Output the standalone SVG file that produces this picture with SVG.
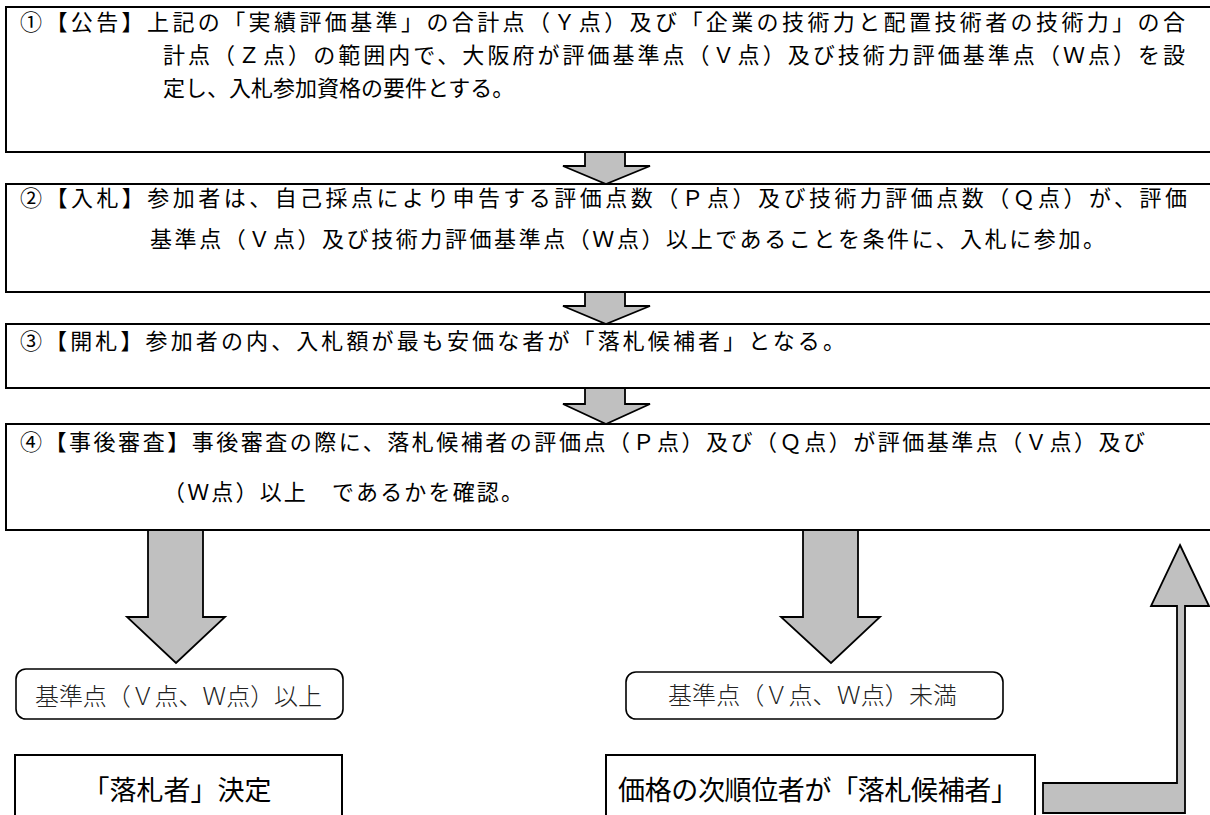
<svg xmlns="http://www.w3.org/2000/svg" width="1210" height="815" viewBox="0 0 1210 815">
<style>
.box{fill:#fff;stroke:#000;stroke-width:2}
.rbox{fill:#fff;stroke:#000;stroke-width:1.6}
.arr{fill:#c0c0c0;stroke:#000;stroke-width:1.8;stroke-linejoin:miter}
.t{font-family:"Liberation Sans","Noto Sans CJK JP",sans-serif;font-size:22px;fill:#000}
.m{font-family:"Liberation Serif","Noto Sans CJK JP",serif;font-size:24px;font-weight:300;fill:#222}
.b{font-family:"Liberation Sans","Noto Sans CJK JP",sans-serif;font-size:27px;fill:#000}
</style>
<rect width="1210" height="815" fill="#fff"/>
<g id="step1">
<rect class="box" x="6" y="7" width="1215" height="145"/>
<text class="t" x="20" y="30" textLength="1165" lengthAdjust="spacing">①【公告】上記の「実績評価基準」の合計点（Ｙ点）及び「企業の技術力と配置技術者の技術力」の合</text>
<text class="t" x="163" y="63" textLength="1022" lengthAdjust="spacing">計点（Ｚ点）の範囲内で、大阪府が評価基準点（Ｖ点）及び技術力評価基準点（Ｗ点）を設</text>
<text class="t" x="163" y="96">定し、入札参加資格の要件とする。</text>
</g>
<g id="step2">
<rect class="box" x="6" y="184" width="1215" height="108"/>
<text class="t" x="20" y="206" textLength="1167" lengthAdjust="spacing">②【入札】参加者は、自己採点により申告する評価点数（Ｐ点）及び技術力評価点数（Ｑ点）が、評価</text>
<text class="t" x="150" y="247" textLength="955" lengthAdjust="spacing">基準点（Ｖ点）及び技術力評価基準点（Ｗ点）以上であることを条件に、入札に参加。</text>
</g>
<g id="step3">
<rect class="box" x="6" y="324" width="1215" height="64"/>
<text class="t" x="20" y="349" textLength="825" lengthAdjust="spacing">③【開札】参加者の内、入札額が最も安価な者が「落札候補者」となる。</text>
</g>
<g id="step4">
<rect class="box" x="6" y="424" width="1215" height="106"/>
<text class="t" x="20" y="450" textLength="1125" lengthAdjust="spacing">④【事後審査】事後審査の際に、落札候補者の評価点（Ｐ点）及び（Ｑ点）が評価基準点（Ｖ点）及び</text>
<text class="t" x="163" y="500" textLength="360" lengthAdjust="spacing">（Ｗ点）以上　であるかを確認。</text>
</g>
<g id="pass-label">
<rect class="rbox" x="16" y="669" width="327" height="50" rx="10"/>
<text class="m" x="35" y="705" textLength="287" lengthAdjust="spacing">基準点（Ｖ点、Ｗ点）以上</text>
</g>
<g id="fail-label">
<rect class="rbox" x="626" y="672" width="377" height="47" rx="10"/>
<text class="m" x="668" y="704" textLength="289" lengthAdjust="spacing">基準点（Ｖ点、Ｗ点）未満</text>
</g>
<g id="winner">
<rect class="box" x="15" y="755" width="327" height="80"/>
<text class="b" x="177" y="800" text-anchor="middle">「落札者」決定</text>
</g>
<g id="next">
<rect class="box" x="606" y="755" width="429" height="80"/>
<text class="b" x="618" y="800" textLength="400" lengthAdjust="spacing">価格の次順位者が「落札候補者」</text>
</g>
<g id="connectors">
<polygon class="arr" points="585,152 625,152 625,166 650,166 606,184 563,166 585,166"/>
<polygon class="arr" points="585,292 625,292 625,306 650,306 606,324 563,306 585,306"/>
<polygon class="arr" points="585,388 625,388 625,404 650,404 606,424 563,404 585,404"/>
<polygon class="arr" points="148,530 203,530 203,617 225,617 176,663 127,617 148,617"/>
<polygon class="arr" points="803,530 858,530 858,617 880,617 831,663 781,617 803,617"/>
<polygon class="arr" points="1180,545 1209,606 1185,606 1185,813 1043,813 1043,783 1177,783 1177,606 1151,606"/>
</g>
</svg>
